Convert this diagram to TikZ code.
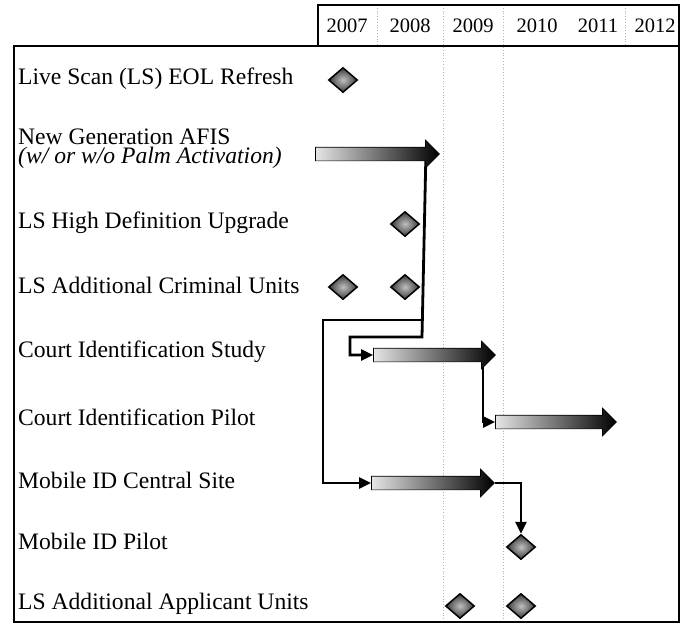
\documentclass[tikz,border=0pt]{standalone}
\usepackage{fontspec}
\setmainfont{Liberation Serif}
\usetikzlibrary{shapes.arrows,shapes.geometric,arrows.meta,backgrounds}
\begin{document}
\begin{tikzpicture}[x=1pt,y=-1pt,
  lbl/.style={anchor=west, inner sep=0pt, font=\fontsize{23.6}{19}\selectfont, align=left},
  yr/.style={inner sep=0pt, font=\fontsize{20.5}{22}\selectfont},
  ms/.style={diamond, draw=black, line width=1.5pt, minimum width=29pt, minimum height=25pt, inner sep=0pt, inner color=gray!50, outer color=gray!45!black},
  bar/.style={single arrow, single arrow head extend=7pt, single arrow tip angle=90, inner sep=0pt, text height=13pt, text depth=0pt, text width=0pt, left color=gray!20, middle color=gray!60, right color=black, draw=black, line width=0.7pt},
  conn/.style={line width=2.8pt, -{Triangle[length=12pt,width=11pt]}},
  frame/.style={line width=1.7pt},
  gridl/.style={gray!60, dotted, line width=0.8pt}
]
\useasboundingbox (0,0) rectangle (689,638);
% grid
\draw[gridl] (377,5) -- (377,46);
\draw[gridl] (443,5) -- (443,620);
\draw[gridl] (503,5) -- (503,620);
\draw[gridl] (625,5) -- (625,46);
% frames
\draw[frame] (318,5) rectangle (679,46);
\draw[frame] (14,46) rectangle (679,622);
% years
\node[yr] (y07) at (347,26) {2007};
\node[yr] (y08) at (410,26) {2008};
\node[yr] (y09) at (473,26) {2009};
\node[yr] (y10) at (537,26) {2010};
\node[yr] (y11) at (598,26) {2011};
\node[yr] (y12) at (655,26) {2012};
% labels
\node[lbl] (l1) at (18,79) {Live Scan (LS) EOL Refresh};
\node[lbl] (l2) at (18,149) {New Generation AFIS\\\textit{(w/ or w/o Palm Activation)}};
\node[lbl] (l3) at (18,223) {LS High Definition Upgrade};
\node[lbl] (l4) at (18,285) {LS Additional Criminal Units};
\node[lbl] (l5) at (18,352) {Court Identification Study};
\node[lbl] (l6) at (18,417) {Court Identification Pilot};
\node[lbl] (l7) at (18,480) {Mobile ID Central Site};
\node[lbl] (l8) at (18,541) {Mobile ID Pilot};
\node[lbl] (l9) at (18,604) {LS Additional Applicant Units};
% milestones
\node[ms] (m1) at (343,80) {};
\node[ms] (m3) at (405,224) {};
\node[ms] (m4a) at (343,287) {};
\node[ms] (m4b) at (405,287) {};
\node[ms] (m8) at (521,547) {};
\node[ms] (m9a) at (460,606) {};
\node[ms] (m9b) at (521,606) {};
% bars
\node[bar, minimum height=124pt] (afis) at (374,154) {};
\node[bar, minimum height=122pt] (study) at (431,355) {};
\node[bar, minimum height=121pt] (pilot) at (552.5,422) {};
\node[bar, minimum height=123pt] (central) at (429.5,483) {};
% connectors
\coordinate (jA) at (422,337);
\coordinate (jB) at (422,320);
\coordinate (jC) at (350,337);
\coordinate (jD) at (323,320);
\begin{pgfonlayer}{background}
\draw[conn] ([xshift=-14pt]afis.tip) -- (jA) -- (jC) |- (study.west);
\draw[conn] (jB) -- (jD) |- (central.west);
\draw[conn] ([xshift=-13pt]study.tip) |- (pilot.west);
\draw[conn] (central.tip) -| (m8.north);
\end{pgfonlayer}
\end{tikzpicture}
\end{document}
